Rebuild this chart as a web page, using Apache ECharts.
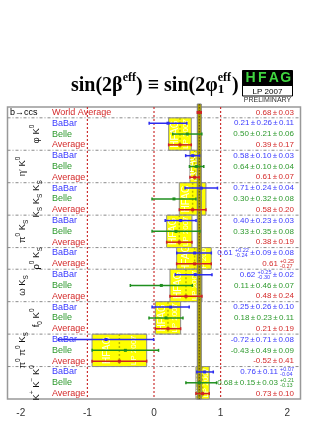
<!DOCTYPE html>
<html><head><meta charset="utf-8">
<script src="https://cdn.jsdelivr.net/npm/echarts@6/dist/echarts.min.js"></script>
<style>html,body{margin:0;padding:0;background:#fff}#c{width:332px;height:430px}</style>
</head><body><div id="c"></div>
<script>
// ---------------- data ----------------
const xTicks = [-2, -1, 0, 1, 2];
const refLines = [-1, 0, 1];
const modeLabels = [
  '{m|φ K}{sup|0}',
  '{m|η′ K}{sup|0}',
  '{m|K}{sub|S}{m| K}{sub|S}{m| K}{sub|S}',
  '{m|π}{sup|0}{m| K}{sub|S}',
  '{m|ρ}{sup|0}{m| K}{sub|S}',
  '{m|ω K}{sub|S}',
  '{m|f}{sub|0}{m| K}{sup|0}',
  '{m|π}{sup|0}{m| π}{sup|0}{m| K}{sub|S}',
  '{m|K}{sup|+}{m| K}{sup|−}{m| K}{sup|0}'
];
const hasBelle = [true, true, true, true, false, true, true, true, true];
const babarVal = [0.21, 0.58, 0.71, 0.40, 0.61, 0.62, 0.25, -0.72, 0.76];
const babarErr = [[0.26,0.11],[0.10,0.03],[0.24,0.04],[0.23,0.03],[[0.22,0.24],0.09,0.08],[[0.25,0.30],0.02],[0.26,0.10],[0.71,0.08],[0.11,[0.07,0.04]]];
const belleVal = [0.50, 0.64, 0.30, 0.33, null, 0.11, 0.18, -0.43, 0.68];
const belleErr = [[0.21,0.06],[0.10,0.04],[0.32,0.08],[0.35,0.08],null,[0.46,0.07],[0.23,0.11],[0.49,0.09],[0.15,0.03,[0.21,0.13]]];
const avgVal = [0.39, 0.61, 0.58, 0.38, 0.61, 0.48, 0.21, -0.52, 0.73];
const avgErr = [[0.17],[0.07],[0.20],[0.19],[[0.25,0.27]],[0.24],[0.19],[0.41],[0.10]];
const worldVal = 0.68;
const worldErr = [0.03];

// ---------------- helpers ----------------
const FONT = '"Liberation Sans", Arial, sans-serif';
const SERIF = '"Liberation Serif", "Times New Roman", serif';
const COL = ['#2b2bf0', '#1f8f1f', '#d02222'];
const TXT = ['#3a3aff', '#2e9a2e', '#d42a2a'];
const cv = document.createElement('canvas').getContext('2d');
function tw(t, font) { cv.font = font; return cv.measureText(t).width; }
function fmt(v) { return v.toFixed(2); }
function totErr(terms) {
  let lo = 0, hi = 0;
  terms.forEach(t => { if (Array.isArray(t)) { hi += t[0]*t[0]; lo += t[1]*t[1]; } else { hi += t*t; lo += t*t; } });
  return [Math.sqrt(lo), Math.sqrt(hi)];
}
function tokens(v, terms) {
  const out = [{t: fmt(v)}];
  terms.forEach(t => {
    if (Array.isArray(t)) out.push({gap: 2.2}, {sup: '+' + fmt(t[0]), sub: '-' + fmt(t[1])});
    else out.push({pm: true}, {t: fmt(t)});
  });
  return out;
}

// rows
const bars = [];      // [val, lo, hi, row, colorIdx]
const boxes = [];     // [avg, lo, hi, rowStart, rowEnd]
const seps = [1];
const labels = [];
const worldE = totErr(worldErr);
bars.push([worldVal, worldE[0], worldE[1], 0, 2]);
labels.push({row: 0, kind: 'left', text: 'b→ccs', x: 2.5, color: '#000'});
labels.push({row: 0, kind: 'name', text: 'World Average', color: TXT[2]});
labels.push({row: 0, kind: 'right', toks: tokens(worldVal, worldErr), color: TXT[2]});
let r = 1;
for (let i = 0; i < babarVal.length; i++) {
  const n = hasBelle[i] ? 3 : 2;
  const eB = totErr(babarErr[i]);
  bars.push([babarVal[i], eB[0], eB[1], r, 0]);
  labels.push({row: r, kind: 'name', text: 'BaBar', color: TXT[0]});
  labels.push({row: r, kind: 'right', toks: tokens(babarVal[i], babarErr[i]), color: TXT[0]});
  if (hasBelle[i]) {
    const eL = totErr(belleErr[i]);
    bars.push([belleVal[i], eL[0], eL[1], r + 1, 1]);
    labels.push({row: r + 1, kind: 'name', text: 'Belle', color: TXT[1]});
    labels.push({row: r + 1, kind: 'right', toks: tokens(belleVal[i], belleErr[i]), color: TXT[1]});
  }
  const eA = totErr(avgErr[i]);
  bars.push([avgVal[i], eA[0], eA[1], r + n - 1, 2]);
  labels.push({row: r + n - 1, kind: 'name', text: 'Average', color: TXT[2]});
  labels.push({row: r + n - 1, kind: 'right', toks: tokens(avgVal[i], avgErr[i]), color: TXT[2]});
  boxes.push([avgVal[i], eA[0], eA[1], r, r + n]);
  labels.push({row: r + n / 2 - 0.5, kind: 'mode', text: modeLabels[i], alt: i % 2});
  r += n;
  if (i < babarVal.length - 1) seps.push(r);
}
const NROWS = r;

// ---------------- render functions ----------------
function renderBox(p, api) {
  const a = api.value(0), lo = api.value(1), hi = api.value(2), r0 = api.value(3), r1 = api.value(4);
  const p0 = api.coord([a - lo, r0]), p1 = api.coord([a + hi, r1]);
  const xc = api.coord([a, r0])[0];
  const x0 = p0[0], y0 = p0[1], w = p1[0] - p0[0], h = p1[1] - p0[1];
  return {type: 'group', children: [
    {type: 'rect', shape: {x: x0, y: y0, width: w, height: h}, style: {fill: '#ffff00', stroke: '#8c8c8c', lineWidth: 1}},
    {type: 'group', clipPath: {type: 'rect', shape: {x: x0, y: y0, width: w, height: h}}, children: [
      {type: 'text', x: x0 + w * 0.27, y: y0 + h / 2, rotation: Math.PI / 2,
        style: {text: 'HFAG', fill: 'rgba(255,255,255,0.9)', font: '10px ' + FONT, align: 'center', verticalAlign: 'middle'}},
      {type: 'text', x: x0 + w * 0.77, y: y0 + h / 2, rotation: Math.PI / 2,
        style: {text: 'LP 2007', fill: 'rgba(255,255,255,0.9)', font: '8px ' + FONT, align: 'center', verticalAlign: 'middle'}}
    ]},
    {type: 'line', shape: {x1: xc, y1: y0, x2: xc, y2: y0 + h}, style: {stroke: '#b9b900', lineWidth: 1.5, lineDash: [2, 2]}}
  ]};
}
function renderSep(p, api) {
  const b = api.value(0);
  const a = api.coord([-2.2, b]), c = api.coord([2.2, b]);
  return {type: 'line', shape: {x1: a[0], y1: a[1], x2: c[0], y2: c[1]}, style: {stroke: '#8a8a8a', lineWidth: 1, lineDash: [3, 2, 1, 2]}};
}
function renderRef(p, api) {
  const v = api.value(0);
  const a = api.coord([v, 0]), c = api.coord([v, NROWS]);
  return {type: 'line', shape: {x1: a[0], y1: a[1], x2: c[0], y2: c[1]}, style: {stroke: '#cc3030', lineWidth: 1.2, lineDash: [2, 2]}};
}
function renderBand(p, api) {
  const v = api.value(0), lo = api.value(1), hi = api.value(2);
  const a = api.coord([v - lo, 0]), c = api.coord([v + hi, NROWS]);
  const xc = api.coord([v, 0])[0];
  return {type: 'group', children: [
    {type: 'rect', shape: {x: a[0], y: a[1] - 3, width: c[0] - a[0], height: c[1] - a[1] + 3}, style: {fill: '#aea000', stroke: '#7a7a7a', lineWidth: 1}},
    {type: 'line', shape: {x1: xc, y1: a[1] - 3, x2: xc, y2: c[1]}, style: {stroke: '#5e5500', lineWidth: 1, lineDash: [1.5, 1.5]}}
  ]};
}
function renderBar(p, api) {
  const v = api.value(0), lo = api.value(1), hi = api.value(2), row = api.value(3), ci = api.value(4);
  const y = api.coord([0, row + 0.5])[1];
  const x0 = api.coord([v - lo, 0])[0], x1 = api.coord([v + hi, 0])[0], xc = api.coord([v, 0])[0];
  const col = COL[ci];
  return {type: 'group', children: [
    {type: 'line', shape: {x1: x0, y1: y, x2: x1, y2: y}, style: {stroke: col, lineWidth: 1.5}},
    {type: 'line', shape: {x1: x0, y1: y - 1.5, x2: x0, y2: y + 1.5}, style: {stroke: col, lineWidth: 1.5}},
    {type: 'line', shape: {x1: x1, y1: y - 1.5, x2: x1, y2: y + 1.5}, style: {stroke: col, lineWidth: 1.5}},
    {type: 'rect', shape: {x: xc - 1.5, y: y - 1.5, width: 3, height: 3}, style: {fill: col}}
  ]};
}
const NF = '8px ' + FONT, SF = '5.5px ' + FONT, PMGAP = 1.3;
function renderLabel(p, api) {
  const L = labels[p.dataIndex];
  const y = api.coord([0, L.row + 0.5])[1];
  const left = api.coord([-2.2, 0])[0], right = api.coord([2.2, 0])[0];
  if (L.kind === 'left') return {type: 'text', x: left + L.x, y: y, style: {text: L.text, fill: L.color, font: '9px ' + FONT, align: 'left', verticalAlign: 'middle'}};
  if (L.kind === 'name') return {type: 'text', x: left + 44.5, y: y, style: {text: L.text, fill: L.color, font: '9px ' + FONT, align: 'left', verticalAlign: 'middle'}};
  if (L.kind === 'mode') return {type: 'text', x: left + (L.alt ? 14.5 : 29), y: y, rotation: Math.PI / 2,
    style: {text: L.text, fill: '#111', align: 'center', verticalAlign: 'middle',
      rich: {m: {fontSize: 9.5, fontFamily: FONT, lineHeight: 15, verticalAlign: 'middle'},
             sup: {fontSize: 6.5, fontFamily: FONT, lineHeight: 8, verticalAlign: 'top'},
             sub: {fontSize: 6.5, fontFamily: FONT, lineHeight: 8, verticalAlign: 'bottom'}}}};
  // right aligned numeric text
  const kids = [];
  let x = right - 6.5;
  for (let k = L.toks.length - 1; k >= 0; k--) {
    const t = L.toks[k];
    if (t.t !== undefined) {
      x -= tw(t.t, NF);
      kids.push({type: 'text', x: x, y: y, style: {text: t.t, fill: L.color, font: NF, align: 'left', verticalAlign: 'middle'}});
    } else if (t.pm) {
      x -= PMGAP + tw('±', NF);
      kids.push({type: 'text', x: x, y: y, style: {text: '±', fill: L.color, font: NF, align: 'left', verticalAlign: 'middle'}});
      x -= PMGAP;
    } else if (t.gap) {
      x -= t.gap;
    } else {
      const w = Math.max(tw(t.sup, SF), tw(t.sub, SF)); x -= w;
      kids.push({type: 'text', x: x, y: y - 2.6, style: {text: t.sup, fill: L.color, font: SF, align: 'left', verticalAlign: 'middle'}});
      kids.push({type: 'text', x: x, y: y + 2.6, style: {text: t.sub, fill: L.color, font: SF, align: 'left', verticalAlign: 'middle'}});
    }
  }
  return {type: 'group', children: kids};
}

// ---------------- title & logo ----------------
function titleGraphic() {
  const big = 'bold 20px ' + SERIF, small = 'bold 12px ' + SERIF, sub = 'bold 13px ' + SERIF;
  const base = 86;
  const pieces = [
    {t: 'sin(2β', f: big, dy: 0},
    {t: 'eff', f: small, dy: -8.5},
    {t: ') ≡ sin(2φ', f: big, dy: 0},
    {stack: ['eff', '1']},
    {t: ')', f: big, dy: 0}
  ];
  let x = 71;
  const els = [];
  pieces.forEach(pc => {
    if (pc.stack) {
      const w = Math.max(tw(pc.stack[0], small), tw(pc.stack[1], sub));
      els.push({type: 'text', x: x, y: base - 8.5, style: {text: pc.stack[0], font: small, fill: '#000', align: 'left', verticalAlign: 'middle'}});
      els.push({type: 'text', x: x, y: base + 3.5, style: {text: pc.stack[1], font: sub, fill: '#000', align: 'left', verticalAlign: 'middle'}});
      x += w + 1;
    } else {
      els.push({type: 'text', x: x, y: base + pc.dy, style: {text: pc.t, font: pc.f, fill: '#000', align: 'left', verticalAlign: 'middle'}});
      x += tw(pc.t, pc.f);
    }
  });
  return els;
}
const logo = [
  {type: 'rect', shape: {x: 242.5, y: 70.5, width: 50, height: 25.5}, style: {fill: '#fff', stroke: '#000', lineWidth: 1}},
  {type: 'rect', shape: {x: 242.5, y: 70.5, width: 50, height: 15.5}, style: {fill: '#000'}},
  ...['H', 'F', 'A', 'G'].map((c, i) => ({type: 'text', x: 250.5 + i * 11.7, y: 78.5,
    style: {text: c, font: 'bold 14px ' + FONT, fill: '#3fd43f', align: 'center', verticalAlign: 'middle'}})),
  {type: 'text', x: 267.5, y: 91.3, style: {text: 'LP 2007', font: '8px ' + FONT, fill: '#000', align: 'center', verticalAlign: 'middle'}},
  {type: 'text', x: 267.5, y: 100.2, style: {text: 'PRELIMINARY', font: '7px ' + FONT, fill: '#333', align: 'center', verticalAlign: 'middle'}}
];

const chart = echarts.init(document.getElementById('c'));
chart.setOption({
  animation: false,
  grid: {left: 7.5, right: 31.5, top: 107, bottom: 31, show: true, borderColor: '#999', borderWidth: 1.5, containLabel: false, outerBoundsMode: 'none'},
  xAxis: {type: 'value', min: -2.2, max: 2.2, axisLine: {show: false}, axisTick: {show: false}, splitLine: {show: false},
    axisLabel: {customValues: xTicks, fontSize: 10, color: '#333', margin: 9, fontFamily: FONT}},
  yAxis: {type: 'value', min: 0, max: NROWS, inverse: true, show: false},
  graphic: [...titleGraphic(), ...logo],
  series: [
    {type: 'custom', z: 2, silent: true, renderItem: renderBox, data: boxes},
    {type: 'custom', z: 3, silent: true, renderItem: renderSep, data: seps.map(s => [s])},
    {type: 'custom', z: 3, silent: true, renderItem: renderRef, data: refLines.map(v => [v])},
    {type: 'custom', z: 4, silent: true, renderItem: renderBand, data: [[worldVal, totErr(worldErr)[0], totErr(worldErr)[1]]]},
    {type: 'custom', z: 5, silent: true, renderItem: renderBar, data: bars},
    {type: 'custom', z: 6, silent: true, renderItem: renderLabel, data: labels.map(l => [l.row])}
  ]
});
</script></body></html>
